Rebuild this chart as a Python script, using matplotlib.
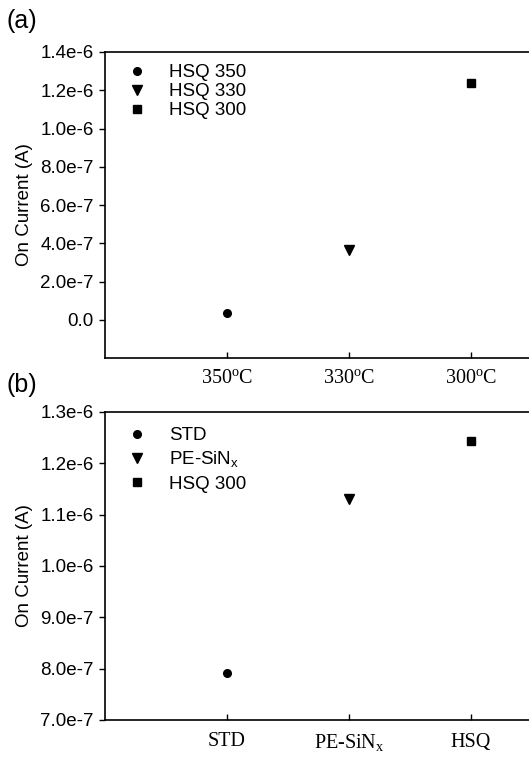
import matplotlib
matplotlib.use("Agg")
import matplotlib.pyplot as plt

plt.rcParams['font.family'] = ['Liberation Sans', 'DejaVu Sans']
plt.rcParams['mathtext.fontset'] = 'custom'
plt.rcParams['mathtext.rm'] = 'Liberation Serif'
plt.rcParams['mathtext.sf'] = 'Liberation Sans'

# ---- data panel (a)
a_labels = ["HSQ 350", "HSQ 330", "HSQ 300"]
a_xticklabels = [r"350$^{\rm o}$C", r"330$^{\rm o}$C", r"300$^{\rm o}$C"]
a_values = [3.5e-8, 3.65e-7, 1.24e-6]
a_yticks = [0.0, 2e-7, 4e-7, 6e-7, 8e-7, 1.0e-6, 1.2e-6, 1.4e-6]
a_yticklabels = ["0.0", "2.0e-7", "4.0e-7", "6.0e-7", "8.0e-7", "1.0e-6", "1.2e-6", "1.4e-6"]

# ---- data panel (b)
b_labels = ["STD", r"PE-SiN$_{\mathsf{x}}$", "HSQ 300"]
b_xticklabels = ["STD", r"PE-SiN$_{\rm x}$", "HSQ"]
b_values = [7.91e-7, 1.13e-6, 1.243e-6]
b_yticks = [7e-7, 8e-7, 9e-7, 1.0e-6, 1.1e-6, 1.2e-6, 1.3e-6]
b_yticklabels = ["7.0e-7", "8.0e-7", "9.0e-7", "1.0e-6", "1.1e-6", "1.2e-6", "1.3e-6"]

markers = ['o', 'v', 's']
msizes = [5.5, 7, 5.5]

W, H = 529, 761
fig = plt.figure(figsize=(W / 100, H / 100), dpi=100)

def make_ax(top, bottom):
    return fig.add_axes([105 / W, (H - bottom) / H, (532 - 105) / W, (bottom - top) / H])

ax_a = make_ax(52, 358)
ax_b = make_ax(412, 720)

def style(ax, values, labels, xticklabels, yticks, yticklabels, ylim, legend_anchor, lspace):
    for i, (v, lab) in enumerate(zip(values, labels)):
        ax.plot([i + 1], [v], linestyle='none', marker=markers[i], markersize=msizes[i],
                color='black', label=lab)
    ax.set_xlim(0, 3.5)
    ax.set_ylim(*ylim)
    ax.set_xticks([1, 2, 3])
    ax.set_xticklabels(xticklabels, fontsize=14.5, family='Liberation Serif')
    ax.set_yticks(yticks)
    ax.set_yticklabels(yticklabels, fontsize=13.5)
    ax.tick_params(axis='x', direction='in', length=4, width=1, pad=9)
    ax.tick_params(axis='y', direction='out', length=4, width=1, pad=4)
    for s in ax.spines.values():
        s.set_linewidth(1.2)
    ax.set_ylabel("On Current (A)", fontsize=13.5, labelpad=5)
    ax.legend(loc='upper left', bbox_to_anchor=legend_anchor, frameon=False, fontsize=13.5,
              labelspacing=lspace, handletextpad=1.2, handlelength=1.0, borderaxespad=0)

style(ax_a, a_values, a_labels, a_xticklabels, a_yticks, a_yticklabels, (-2e-7, 1.4e-6),
      (0.035, 0.985), 0.1)
style(ax_b, b_values, b_labels, b_xticklabels, b_yticks, b_yticklabels, (7e-7, 1.3e-6),
      (0.035, 0.975), 0.3)

fig.text(7 / W, 1 - 21 / H, "(a)", fontsize=18, va='center', ha='left')
fig.text(7 / W, 1 - 385 / H, "(b)", fontsize=18, va='center', ha='left')

fig.savefig("out.png", dpi=100)
